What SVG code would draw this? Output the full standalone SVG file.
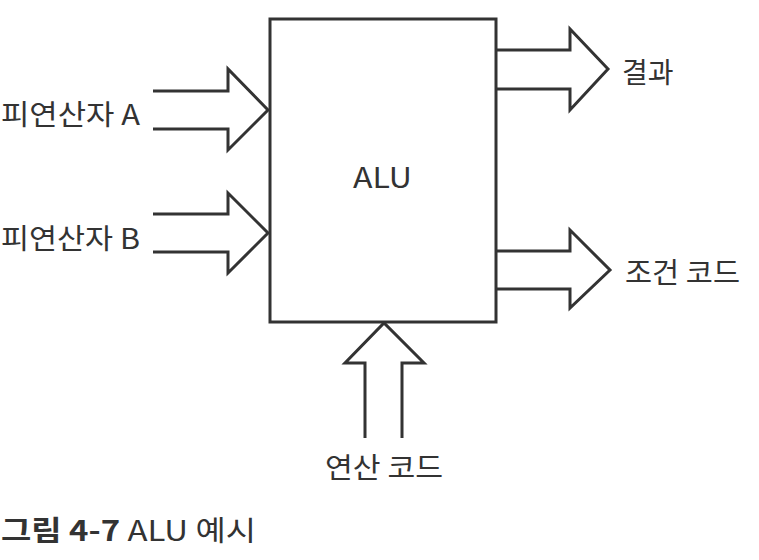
<svg xmlns="http://www.w3.org/2000/svg" width="759" height="560" viewBox="0 0 759 560">
<style>
  .ln{fill:none;stroke:#333;stroke-width:3;stroke-linejoin:miter;stroke-linecap:butt}
  .box{fill:#fff;stroke:#333;stroke-width:3}
  .t{font-family:"Noto Sans CJK KR","Noto Sans",sans-serif;fill:#333;font-size:28px}
  .b{font-weight:bold}
</style>
<rect width="759" height="560" fill="#fff"/>
<g id="connectors">
  <path class="ln" d="M153,91 H228 V69 L268,110 L228,150 V129 H153"/>
  <path class="ln" d="M153,214 H228 V193 L268,233 L228,273 V252 H153"/>
  <path class="ln" d="M497,50 H570 V29 L608,69 L570,110 V89 H497"/>
  <path class="ln" d="M497,251 H570 V230 L610,270 L570,308 V289 H497"/>
  <path class="ln" d="M365,438 V363 H345 L384,323 L424,363 H402 V438"/>
</g>
<g id="alu">
  <rect class="box" x="270" y="19" width="226" height="303" fill="none"/>
  <text class="t" x="353" y="188" font-size="31" textLength="59" lengthAdjust="spacingAndGlyphs">ALU</text>
</g>
<g id="opA"><text class="t" x="1" y="125" textLength="139" lengthAdjust="spacingAndGlyphs">피연산자 A</text></g>
<g id="opB"><text class="t" x="1" y="249" textLength="139" lengthAdjust="spacingAndGlyphs">피연산자 B</text></g>
<g id="result"><text class="t" x="622" y="83">결과</text></g>
<g id="cond"><text class="t" x="625" y="283" textLength="115" lengthAdjust="spacingAndGlyphs">조건 코드</text></g>
<g id="opcode"><text class="t" x="325" y="478" textLength="118" lengthAdjust="spacingAndGlyphs">연산 코드</text></g>
<g id="caption"><text class="t" x="1" y="541" font-size="26" textLength="255" lengthAdjust="spacingAndGlyphs"><tspan class="b">그림 4-7</tspan> ALU 예시</text></g>
</svg>
